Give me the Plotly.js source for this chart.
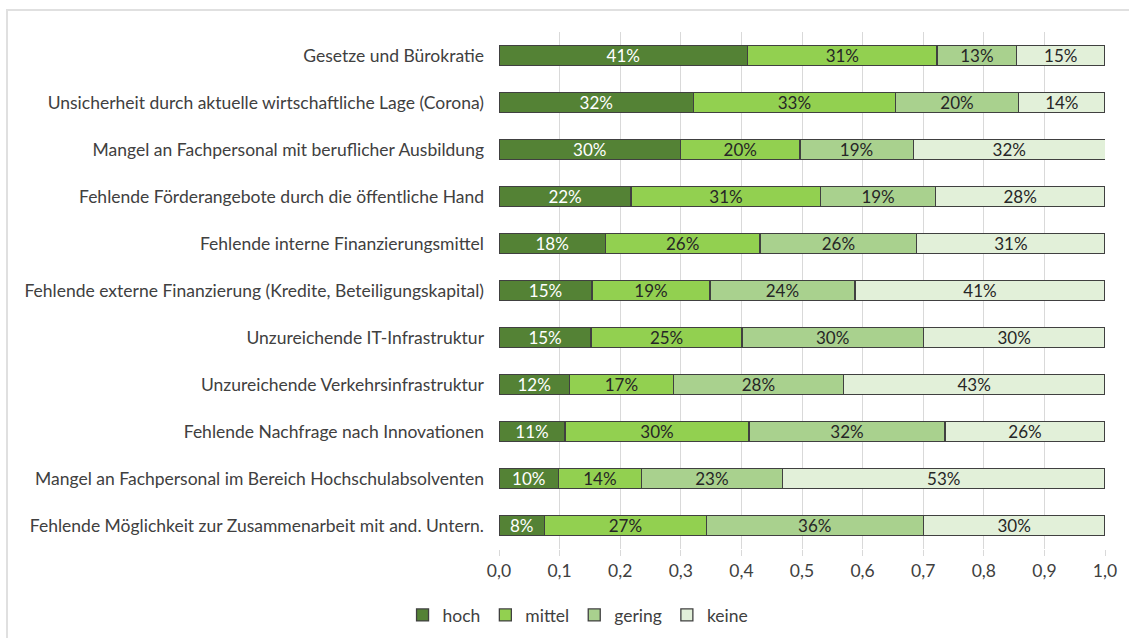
<!DOCTYPE html>
<html>
<head>
<meta charset="utf-8">
<script src="https://cdn.plot.ly/plotly-3.0.1.min.js"></script>
<style>
  html, body { margin: 0; padding: 0; background: #ffffff; }
  #wrap { position: relative; width: 1129px; height: 638px; overflow: hidden; }
  #frame { position: absolute; left: 6px; top: 9px; right: -10px; bottom: -10px;
           border-top: 2px solid #e0e0e0; border-left: 2px solid #e0e0e0; }
  #chart { position: absolute; left: 0; top: 0; width: 1129px; height: 638px; }
</style>
</head>
<body>
<div id="wrap">
  <div id="frame"></div>
  <div id="chart"></div>
</div>
<script>
const categories = [
  "Gesetze und Bürokratie",
  "Unsicherheit durch aktuelle wirtschaftliche Lage (Corona)",
  "Mangel an Fachpersonal mit beruflicher Ausbildung",
  "Fehlende Förderangebote durch die öffentliche Hand",
  "Fehlende interne Finanzierungsmittel",
  "Fehlende externe Finanzierung (Kredite, Beteiligungskapital)",
  "Unzureichende IT-Infrastruktur",
  "Unzureichende Verkehrsinfrastruktur",
  "Fehlende Nachfrage nach Innovationen",
  "Mangel an Fachpersonal im Bereich Hochschulabsolventen",
  "Fehlende Möglichkeit zur Zusammenarbeit mit and. Untern."
];
const hoch   = [0.410, 0.321, 0.2995, 0.218, 0.1755, 0.1536, 0.152, 0.116, 0.109, 0.098, 0.075];
const mittel = [0.313, 0.333, 0.197,  0.313, 0.2551, 0.1944, 0.249, 0.172, 0.3035, 0.137, 0.267];
const gering = [0.131, 0.2035, 0.187, 0.189, 0.2588, 0.2394, 0.299, 0.280, 0.3235, 0.2326, 0.358];
const keine  = [0.146, 0.1425, 0.317, 0.280, 0.3106, 0.4126, 0.300, 0.432, 0.264, 0.5326, 0.300];

const seriesNames = ["hoch", "mittel", "gering", "keine"];
const seriesValues = [hoch, mittel, gering, keine];
const seriesColors = ["#548235", "#92d050", "#a9d18e", "#e2f0d9"];
const textColors = ["#ffffff", "#262626", "#262626", "#262626"];

const FONT = "Lato, 'Open Sans', sans-serif";
const FS = 17.5;

const traces = seriesNames.map((name, i) => ({
  type: "bar",
  orientation: "h",
  name: name,
  y: categories,
  x: seriesValues[i],
  text: seriesValues[i].map(v => Math.round(v * 100) + "%"),
  textposition: "inside",
  insidetextanchor: "middle",
  textangle: 0,
  constraintext: "none",
  textfont: { family: FONT, size: 17, color: textColors[i] },
  marker: { color: seriesColors[i], line: { color: "#404040", width: 1.3 } },
  hoverinfo: "skip"
}));

const layout = {
  width: 1129,
  height: 638,
  barmode: "stack",
  bargap: 0.57,
  separators: ",.",
  paper_bgcolor: "rgba(0,0,0,0)",
  plot_bgcolor: "rgba(0,0,0,0)",
  margin: { l: 499, r: 24, t: 32, b: 89, pad: 0 },
  font: { family: FONT, size: FS, color: "#404040" },
  showlegend: true,
  legend: {
    orientation: "h",
    xref: "container", yref: "container",
    x: 0.512, xanchor: "center",
    y: 0.036, yanchor: "middle",
    font: { family: FONT, size: FS, color: "#404040" },
    traceorder: "normal",
    itemwidth: 30,
    tracegroupgap: 0
  },
  xaxis: {
    range: [0, 1],
    dtick: 0.1,
    tick0: 0,
    tickformat: ".1f",
    showgrid: true,
    gridcolor: "#d9d9d9",
    gridwidth: 1,
    zeroline: false,
    showline: false,
    ticks: "outside",
    ticklen: 6,
    tickcolor: "#d9d9d9",
    tickfont: { family: FONT, size: FS, color: "#404040" },
    fixedrange: true
  },
  yaxis: {
    type: "category",
    autorange: "reversed",
    showgrid: false,
    zeroline: false,
    showline: false,
    ticks: "",
    ticklabelstandoff: 14,
    tickfont: { family: FONT, size: FS, color: "#404040" },
    fixedrange: true
  }
};

Plotly.newPlot("chart", traces, layout, { displayModeBar: false, staticPlot: true });
</script>
</body>
</html>
